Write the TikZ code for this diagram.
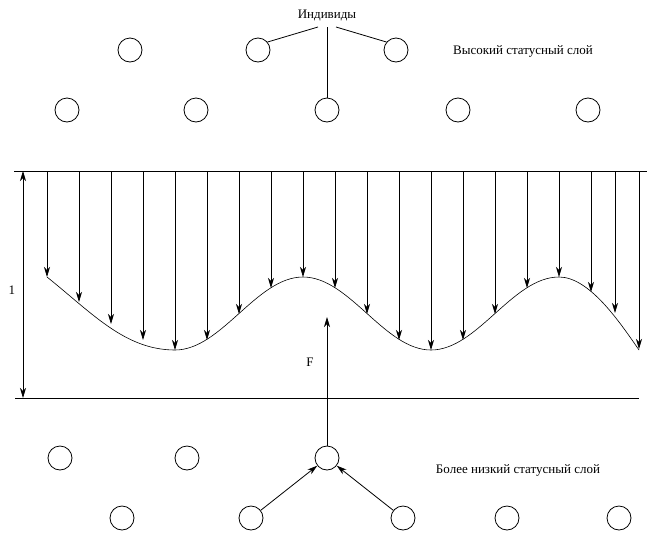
\documentclass[tikz,border=0pt]{standalone}
\usepackage{fontspec}
\setmainfont{Liberation Serif}
\usetikzlibrary{arrows.meta}
\tikzset{
  indiv/.style={draw,circle,minimum size=24pt,inner sep=0pt},
  >={Stealth[length=10pt,width=6pt,inset=3pt]},
}
\begin{document}
\begin{tikzpicture}[x=1pt,y=-1pt,line width=0.8pt,font=\fontsize{13}{15}\selectfont]
  \useasboundingbox (0,0) rectangle (659,539);
  % upper layer
  \node (ind) at (327,15) {Индивиды};
  \node (hilab) at (523,51) {Высокий статусный слой};
  \foreach \x [count=\i] in {130,258,396} \node[indiv] (ua\i) at (\x,50) {};
  \foreach \x [count=\i] in {67,196,327,458,588} \node[indiv] (ub\i) at (\x,110) {};
  \coordinate (indl) at (318,27);
  \coordinate (indm) at (327,27);
  \coordinate (indr) at (336,27);
  \draw (indl) -- (ua2.40);
  \draw (indr) -- (ua3.140);
  \draw (indm) -- (ub3);
  % band between the layers
  \coordinate (tl) at (14,171); \coordinate (tr) at (647,171);
  \coordinate (bl) at (15,398); \coordinate (br) at (639,398);
  \draw (tl) -- (tr);
  \draw (bl) -- (br);
  \coordinate (da) at (23,171); \coordinate (db) at (23,398);
  \draw [<->] (da) -- (db);
  \node (one) at (12,290) {1};
  \draw [line width=0.6pt] (47,277) .. controls (92,313) and (125,350) .. (175,350)
    .. controls (221.5,350) and (256.5,277) .. (303,277)
    .. controls (349.5,277) and (384.5,350) .. (431,350)
    .. controls (477.5,350) and (512.5,277) .. (559,277)
    .. controls (589,277) and (619,321) .. (639,350);
  \foreach \x/\y in {47/277,79/302,111/324,143/340,175/350,207/340,239/314,271/288,
    303/277,335/288,367/314,399/340,431/350,463/340,495/314,527/288,559/277,
    591/292,615/313,639/349}
    \draw [->] (\x,171) -- (\x,\y);
  % lower layer
  \foreach \x [count=\i] in {60,187,327} \node[indiv] (la\i) at (\x,458) {};
  \foreach \x [count=\i] in {122,251,403,507,619} \node[indiv] (lb\i) at (\x,518) {};
  \node (lolab) at (518,470) {Более низкий статусный слой};
  \coordinate (ftip) at (327,317);
  \draw [->] (la3) -- (ftip);
  \node (F) at (310,362) {F};
  \draw [->] (lb2) -- (la3);
  \draw [->] (lb3) -- (la3);
\end{tikzpicture}
\end{document}
